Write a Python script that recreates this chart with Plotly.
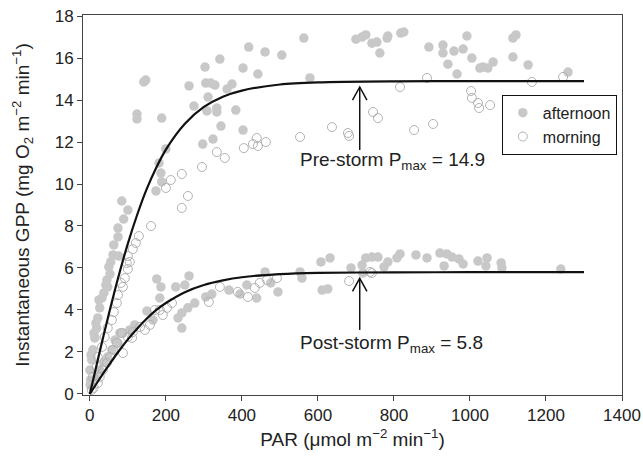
import plotly.graph_objects as go

# ---- data ----
afternoon_par = [142, 147, 124, 124, 189, 200, 182, 187, 189, 174, 84, 100, 89, 74, 74, 63, 76, 50, 53, 45,
                 47, 32, 26, 21, 18, 13, 8, 5, 0, 2, 37, 42, 55, 61, 16, 11, 3, 1, 24,
                 261, 274, 303, 305, 318, 329, 311, 308, 334, 334, 342, 345, 297, 324, 361, 374, 384, 403, 403,
                 418, 442, 461, 505, 563, 579, 700, 716, 726, 742, 755, 763, 782, 784, 818, 826, 892, 929, 929,
                 958, 982, 992, 942, 1005, 966, 1026, 1034, 1047, 1061, 1113, 1113, 1121, 1153, 1258,
                 176, 187, 184, 226, 250, 261, 276, 258, 242, 232, 242, 150, 166, 305, 321, 366, 395, 413, 439,
                 461, 476, 495, 553, 558, 608, 632, 611, 626, 687, 716, 726, 742, 758, 718, 774, 784, 808, 816,
                 858, 887, 921, 939, 953, 971, 982, 932, 1021, 1045, 1042, 1082, 1084, 1239,
                 79, 87, 66, 58, 74, 47, 37, 26, 16, 105, 118]
afternoon_gpp = [14.86, 14.95, 13.33, 13.10, 13.14, 11.67, 11.0, 10.52, 10.10, 9.67, 9.19, 8.76, 8.33, 7.90, 7.48,
                 7.10, 6.57, 6.05, 5.71, 5.43, 5.10, 4.57, 4.10, 3.62, 3.14, 2.67, 2.10, 1.62, 1.14, 0.67, 4.81,
                 5.19, 6.29, 6.62, 3.38, 2.90, 1.86, 0.43, 4.48,
                 14.67, 13.71, 15.57, 14.81, 14.81, 14.71, 14.14, 13.48, 13.62, 13.43, 15.95, 12.76, 11.90, 12.14,
                 14.52, 14.76, 13.52, 12.57, 15.52, 16.52, 15.24, 16.29, 16.14, 16.95, 15.05, 16.90, 17.0, 17.10,
                 16.71, 16.76, 16.24, 16.95, 17.05, 17.19, 17.24, 16.52, 16.62, 16.24, 16.33, 16.43, 17.05, 15.71,
                 16.0, 15.24, 15.52, 15.57, 15.52, 15.81, 16.05, 16.95, 17.10, 15.67, 15.33,
                 5.48, 5.10, 4.57, 5.10, 5.19, 5.62, 4.33, 4.10, 3.86, 3.62, 3.14, 3.95, 3.52, 4.62, 4.76, 4.95,
                 4.76, 5.19, 4.57, 5.81, 5.29, 4.86, 5.81, 5.52, 6.29, 6.48, 4.95, 5.0, 6.0, 6.14, 6.48, 6.52, 6.52,
                 5.76, 6.05, 6.29, 6.48, 6.67, 6.62, 6.48, 6.71, 6.67, 6.52, 6.43, 6.19, 6.10, 6.33, 6.48, 6.10,
                 6.24, 6.0, 5.95,
                 2.90, 2.90, 2.57, 2.10, 2.43, 1.76, 1.52, 1.14, 0.76, 3.05, 3.29]

morning_par = [439, 429, 442, 463, 405, 334, 355, 295, 242, 213, 200, 258, 242, 553, 887, 816, 745, 758, 637, 679,
               682, 853, 903, 1003, 1005, 1021, 1024, 1053, 1163, 1245, 161, 129, 121, 113, 100, 97, 100, 92, 87,
               74, 71, 63, 58, 47, 39, 32, 21, 18, 8, 105, 82,
               184, 203, 216, 342, 313, 416, 434, 447, 466, 492, 389, 682, 742, 737, 132, 113, 100, 87, 171, 192,
               84, 71, 61, 53, 45, 34, 26, 21, 111, 145, 158, 10, 5]
morning_gpp = [12.19, 11.90, 11.81, 12.0, 11.71, 11.52, 11.24, 10.81, 10.48, 10.19, 9.81, 9.43, 8.86, 12.24, 15.05,
               14.62, 13.43, 13.14, 12.71, 12.43, 12.29, 12.57, 12.86, 14.43, 14.10, 13.86, 13.62, 13.76, 14.86,
               15.10, 8.0, 7.52, 7.19, 6.90, 6.57, 6.24, 5.95, 5.52, 5.10, 4.71, 4.33, 3.90, 3.52, 3.14, 2.71,
               2.24, 1.76, 1.29, 0.81, 6.29, 5.29,
               4.0, 4.10, 4.33, 5.10, 4.38, 4.62, 5.05, 5.29, 5.43, 5.52, 4.86, 5.38, 5.76, 5.81, 3.19, 2.95,
               2.71, 1.95, 4.0, 3.76, 2.90, 2.43, 2.10, 1.76, 1.48, 1.14, 0.81, 0.52, 2.67, 3.05, 3.29, 0.29, 0.19]

curve_par = [0, 25, 50, 75, 100, 125, 150, 175, 200, 250, 300, 350, 400, 500, 600, 800, 1000, 1300]
pre_storm_fit = [0, 1.94, 3.81, 5.57, 7.16, 8.56, 9.78, 10.79, 11.64, 12.87, 13.67, 14.16, 14.45, 14.74, 14.84,
                 14.89, 14.9, 14.9]
post_storm_fit = [0, 0.70, 1.37, 2.01, 2.60, 3.12, 3.59, 4.0, 4.33, 4.85, 5.19, 5.41, 5.56, 5.71, 5.77, 5.79,
                  5.8, 5.8]

x_ticks = [0, 200, 400, 600, 800, 1000, 1200, 1400]
y_ticks = [0, 2, 4, 6, 8, 10, 12, 14, 16, 18]

FONT = "Liberation Sans, Arial, sans-serif"
TXT = "#222222"

fig = go.Figure()
fig.add_trace(go.Scatter(x=afternoon_par, y=afternoon_gpp, mode="markers", name="afternoon",
                         marker=dict(color="#c8c8c8", size=9.5, line=dict(width=0))))
fig.add_trace(go.Scatter(x=morning_par, y=morning_gpp, mode="markers", name="morning",
                         marker=dict(symbol="circle-open", color="#b2b2b2", size=9, line=dict(width=1))))
fig.add_trace(go.Scatter(x=curve_par, y=pre_storm_fit, mode="lines", line=dict(color="#111111", width=2.2,
                         shape="spline", smoothing=0.8), showlegend=False, hoverinfo="skip"))
fig.add_trace(go.Scatter(x=curve_par, y=post_storm_fit, mode="lines", line=dict(color="#111111", width=2.2,
                         shape="spline", smoothing=0.8), showlegend=False, hoverinfo="skip"))

# arrows (shaft + open V head)
arrow_x = 710
arrows = [(11.62, 14.62), (3.05, 5.51)]
for tail, head in arrows:
    fig.add_shape(type="line", x0=arrow_x, x1=arrow_x, y0=tail, y1=head, line=dict(color="#111111", width=1.5))
    fig.add_shape(type="path",
                  path=f"M {arrow_x-19},{head-0.62} L {arrow_x},{head} L {arrow_x+19},{head-0.62}",
                  line=dict(color="#111111", width=1.5))

fig.add_annotation(x=547, y=11.1, xref="x", yref="y", xanchor="left", yanchor="middle", showarrow=False,
                   text="Pre-storm P<sub>max</sub> = 14.9", font=dict(family=FONT, size=19, color=TXT))
fig.add_annotation(x=547, y=2.4, xref="x", yref="y", xanchor="left", yanchor="middle", showarrow=False,
                   text="Post-storm P<sub>max</sub> = 5.8", font=dict(family=FONT, size=19, color=TXT))

axis_common = dict(showline=True, linecolor="#444444", linewidth=1, mirror=True, ticks="outside",
                   ticklen=5, tickcolor="#444444", showgrid=False, zeroline=False, automargin=False,
                   ticklabeloverflow="allow", tickfont=dict(family=FONT, size=17, color=TXT))
fig.update_xaxes(range=[-18, 1400], tickvals=x_ticks, ticktext=[str(v) for v in x_ticks],
                 title=dict(text="PAR (μmol m<sup>−2</sup> min<sup>−1</sup>)",
                            font=dict(family=FONT, size=19, color=TXT), standoff=8), **axis_common)
fig.update_yaxes(range=[-0.05, 18.05], tickvals=y_ticks, ticktext=[str(v) for v in y_ticks],
                 title=dict(text="Instantaneous GPP (mg O<sub>2</sub> m<sup>−2</sup> min<sup>−1</sup>)",
                            font=dict(family=FONT, size=19, color=TXT), standoff=20), **axis_common)

fig.update_layout(width=643, height=460, margin=dict(l=83, r=21, t=15, b=65, autoexpand=False),
                  paper_bgcolor="white", plot_bgcolor="white",
                  legend=dict(x=0.777, y=0.79, xanchor="left", yanchor="top", bordercolor="#111111",
                              borderwidth=1, bgcolor="white", font=dict(family=FONT, size=16, color=TXT),
                              tracegroupgap=0, itemwidth=30),
                  showlegend=True)

# remove the browser's default 8px body margin so the figure sits at the page origin
fig.write_html("out.html", config={"displayModeBar": False},
               post_script="document.body.style.margin='0';")
